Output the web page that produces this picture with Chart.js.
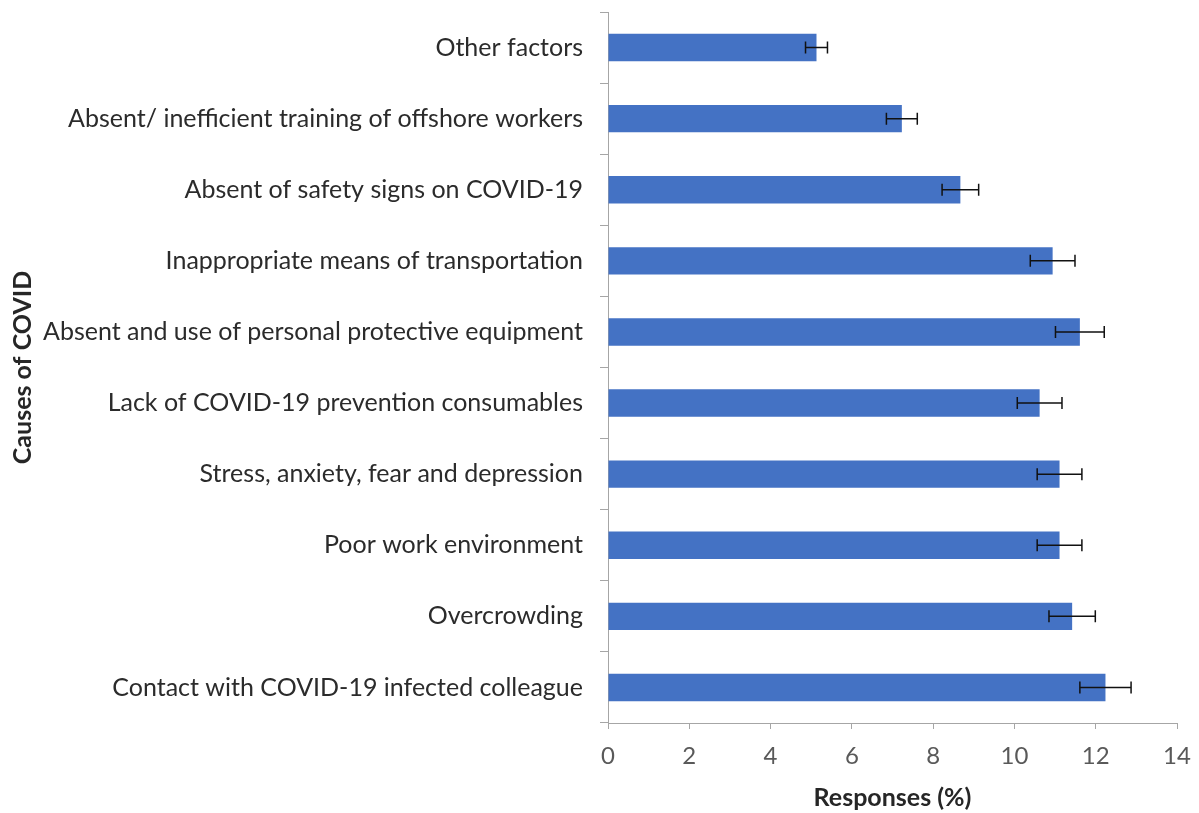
<!DOCTYPE html>
<html>
<head>
<meta charset="utf-8">
<script src="https://cdn.jsdelivr.net/npm/chart.js@4/dist/chart.umd.min.js"></script>
<style>
  html, body { margin: 0; padding: 0; background: #ffffff; }
  #wrap { width: 1199px; height: 813px; }
</style>
</head>
<body>
<div id="wrap"><canvas id="chart" width="1199" height="813"></canvas></div>
<script>
// Causes of COVID among offshore workers (top to bottom)
const causes = [
  "Other factors",
  "Absent/ inefficient training of offshore workers",
  "Absent of safety signs on COVID-19",
  "Inappropriate means of transportation",
  "Absent and use of personal protective equipment",
  "Lack of COVID-19 prevention consumables",
  "Stress, anxiety, fear and depression",
  "Poor work environment",
  "Overcrowding",
  "Contact with COVID-19 infected colleague"
];
// Share of responses (%)
const responses = [5.13, 7.23, 8.67, 10.94, 11.61, 10.62, 11.11, 11.11, 11.42, 12.24];
// Error margins (%)
const errors = [0.27, 0.38, 0.45, 0.55, 0.60, 0.55, 0.55, 0.55, 0.57, 0.63];
const xTicks = [0, 2, 4, 6, 8, 10, 12, 14];

const FONT = "Lato, 'Open Sans', sans-serif";

// Horizontal error bars with end caps
const errorBars = {
  id: 'errorBars',
  afterDatasetsDraw(chart) {
    const meta = chart.getDatasetMeta(0);
    const xs = chart.scales.x;
    const ctx = chart.ctx;
    ctx.save();
    ctx.strokeStyle = '#111111';
    ctx.lineWidth = 1.5;
    meta.data.forEach((bar, i) => {
      const y = bar.y;
      const x1 = xs.getPixelForValue(responses[i] - errors[i]);
      const x2 = xs.getPixelForValue(responses[i] + errors[i]);
      const cap = 6;
      ctx.beginPath();
      ctx.moveTo(x1, y); ctx.lineTo(x2, y);
      ctx.moveTo(x1, y - cap); ctx.lineTo(x1, y + cap);
      ctx.moveTo(x2, y - cap); ctx.lineTo(x2, y + cap);
      ctx.stroke();
    });
    ctx.restore();
  }
};

new Chart(document.getElementById('chart'), {
  type: 'bar',
  data: {
    labels: causes,
    datasets: [{
      data: responses,
      backgroundColor: '#4472C4',
      borderWidth: 0,
      categoryPercentage: 1.0,
      barPercentage: 0.385
    }]
  },
  options: {
    indexAxis: 'y',
    responsive: false,
    animation: false,
    layout: { padding: { left: 0, right: 22, top: 12, bottom: 0 } },
    plugins: { legend: { display: false }, tooltip: { enabled: false } },
    scales: {
      x: {
        min: 0, max: 14,
        afterBuildTicks(scale) { scale.ticks = xTicks.map(v => ({ value: v })); },
        afterFit(scale) {
          scale.height = 90;
          scale.paddingLeft = 0; scale.paddingRight = 0;
        },
        border: { display: true, color: '#a6a6a6', width: 1 },
        grid: { drawOnChartArea: false, drawTicks: true, tickLength: 6, color: '#a6a6a6' },
        ticks: { color: '#595959', font: { family: FONT, size: 24 }, padding: 13, maxRotation: 0 },
        title: {
          display: true, text: 'Responses (%)', color: '#262626',
          font: { family: FONT, size: 25, weight: 'bold' },
          padding: { top: 0, bottom: 0 }
        }
      },
      y: {
        afterFit(scale) {
          scale.width = 608;
          scale.paddingTop = 0; scale.paddingBottom = 0;
        },
        border: { display: true, color: '#a6a6a6', width: 1 },
        grid: { offset: true, drawOnChartArea: false, drawTicks: true, tickLength: 8, color: '#a6a6a6' },
        ticks: { color: '#2b2b2b', font: { family: FONT, size: 25 }, padding: 17, autoSkip: false },
        title: {
          display: true, text: 'Causes of COVID', color: '#262626',
          font: { family: FONT, size: 25, weight: 'bold' },
          padding: { top: 8, bottom: 0 }
        }
      }
    }
  },
  plugins: [errorBars]
});
</script>
</body>
</html>
